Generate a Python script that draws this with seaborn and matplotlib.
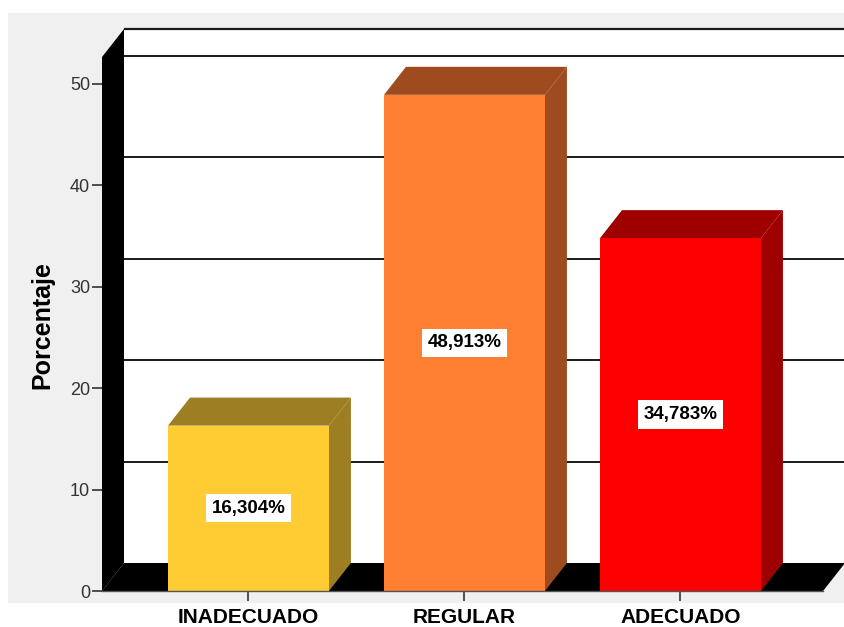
import matplotlib
matplotlib.use("Agg")
import matplotlib.pyplot as plt
import seaborn as sns
import pandas as pd
from matplotlib.patches import Polygon, Rectangle

# ---- data ----
categories = ["INADECUADO", "REGULAR", "ADECUADO"]
percentages = [16.304, 48.913, 34.783]
value_labels = ["16,304%", "48,913%", "34,783%"]
yticks = [0, 10, 20, 30, 40, 50]
front_colors = ["#FFCC33", "#FF7F33", "#FF0000"]
shade_colors = ["#9E7E22", "#9E4B1F", "#9E0000"]
y_label = "Porcentaje"

sns.set_theme(style="white")
plt.rcParams['font.family'] = ['Liberation Sans', 'DejaVu Sans']

W, H = 844, 627
fig = plt.figure(figsize=(W / 100, H / 100), dpi=100)
fig.patch.set_facecolor('white')
fig.patches.append(Rectangle((8 / W, (627 - 603) / H), 1 - 8 / W, (603 - 13) / H,
                             transform=fig.transFigure, facecolor='#F0F0F0',
                             edgecolor='none', zorder=-10))

ax = fig.add_axes([102 / W, 36 / H, 742 / W, 562 / H])
ax.set_zorder(1)
ax.set_facecolor('none')

df = pd.DataFrame({"cat": categories, "pct": percentages})
sns.barplot(data=df, x="cat", y="pct", hue="cat", palette=front_colors,
            saturation=1, width=0.745, legend=False, ax=ax,
            edgecolor='none', linewidth=0, zorder=4)

xmin, xmax = -0.678, 2.757
ymin, ymax = 0, 55.4
ax.set_xlim(xmin, xmax)
ax.set_ylim(ymin, ymax)

# 3D offsets in data units (22 px right, 28 px up)
dx = 22 * (xmax - xmin) / 742
dy = 28 * (ymax - ymin) / 562
x0 = xmin
x1 = 2.66
top = ymax - dy

# back wall
ax.add_patch(Rectangle((x0 + dx, dy), (x1 + dx) - (x0 + dx), top, facecolor='white',
                       edgecolor='none', zorder=0.5, clip_on=False))
# gridlines on the back wall
for v in yticks[1:]:
    ax.plot([x0 + dx, x1 + dx], [v + dy, v + dy], color='#1a1a1a', lw=1.4,
            zorder=0.8, clip_on=False, solid_capstyle='butt')
ax.plot([x0 + dx, x1 + dx], [ymax, ymax], color='#1a1a1a', lw=1.6, zorder=0.8,
        clip_on=False, solid_capstyle='butt')

# left wall and floor (black)
ax.add_patch(Polygon([(x0, 0), (x0, top), (x0 + dx, top + dy), (x0 + dx, dy)],
                     closed=True, facecolor='black', edgecolor='none', zorder=1, clip_on=False))
ax.add_patch(Polygon([(x0, 0), (x1, 0), (x1 + dx, dy), (x0 + dx, dy)],
                     closed=True, facecolor='black', edgecolor='none', zorder=1, clip_on=False))

# 3D faces of the bars
bars = [p for p in ax.patches if isinstance(p, Rectangle) and p.get_height() > 0 and p.get_zorder() == 4]
for bar, shade in zip(bars, shade_colors):
    bx, bw, bh = bar.get_x(), bar.get_width(), bar.get_height()
    ax.add_patch(Polygon([(bx, bh), (bx + dx, bh + dy), (bx + bw + dx, bh + dy), (bx + bw, bh)],
                         closed=True, facecolor=shade, edgecolor='none', zorder=3.5))
    ax.add_patch(Polygon([(bx + bw, 0), (bx + bw, bh), (bx + bw + dx, bh + dy), (bx + bw + dx, dy)],
                         closed=True, facecolor=shade, edgecolor='none', zorder=3.5))

# value labels
for i, (v, lab) in enumerate(zip(percentages, value_labels)):
    ax.text(i, v / 2, lab, ha='center', va='center', fontsize=13.5, fontweight='bold',
            family=['Liberation Sans Narrow', 'Liberation Sans', 'DejaVu Sans'], color='black',
            bbox=dict(boxstyle='square,pad=0.3', fc='white', ec='none'), zorder=6)

# axes styling
for s in ['top', 'right', 'left']:
    ax.spines[s].set_visible(False)
ax.spines['bottom'].set_color('#555555')
ax.spines['bottom'].set_linewidth(1.0)
ax.spines['bottom'].set_bounds(x0, x1)
ax.spines['bottom'].set_zorder(5)

ax.set_yticks(yticks)
ax.set_yticklabels([str(t) for t in yticks])
ax.tick_params(axis='y', direction='out', length=7.5, width=1.2, color='#333333',
               labelsize=13, labelcolor='#333333', pad=1, left=True)
ax.tick_params(axis='x', direction='out', length=7.5, width=1.2, color='#333333',
               labelsize=15, labelcolor='black', pad=5, bottom=True)
for t in ax.get_xticklabels():
    t.set_fontweight('bold')
ax.set_xlabel('')
ax.set_ylabel(y_label, fontsize=18, fontweight='bold', color='black')
ax.yaxis.set_label_coords(-0.064, 0.473)

fig.savefig('out.png', dpi=100)
